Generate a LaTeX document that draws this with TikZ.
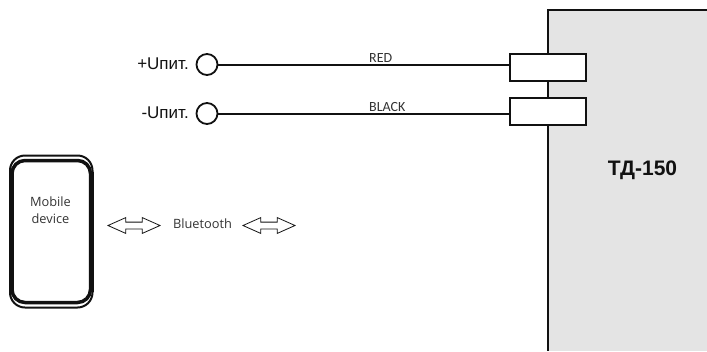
\documentclass[tikz,border=0pt]{standalone}
\usepackage{fontspec}
\setmainfont{Liberation Sans}
\newfontfamily\lblfont{Carlito}
\newfontfamily\devfont{Open Sans}
\usetikzlibrary{shapes.arrows}
\definecolor{boxgray}{HTML}{E4E4E4}
\definecolor{inkc}{HTML}{111111}
\definecolor{txtc}{HTML}{333333}
\tikzset{
  wire/.style={draw=inkc,line width=2bp},
  term/.style={circle,draw=inkc,line width=1.8bp,fill=white,minimum size=21bp,inner sep=0pt},
  conn/.style={rectangle,draw=inkc,line width=2bp,fill=white,minimum width=76bp,minimum height=27bp,inner sep=0pt},
  pwr/.style={font=\fontsize{17bp}{19bp}\selectfont,text=inkc,anchor=east,inner sep=0pt},
  wlabel/.style={font=\lblfont\fontsize{14bp}{16bp}\selectfont,text=txtc,inner sep=0pt,anchor=west},
  dev/.style={font=\devfont\fontsize{12.8bp}{17bp}\selectfont,text=txtc,inner sep=0pt,align=center},
  link/.style={double arrow,draw=inkc,line width=0.8bp,fill=white,minimum width=15bp,minimum height=52bp,double arrow head extend=4.5bp,double arrow tip angle=48,inner xsep=0pt,inner ysep=3bp}
}
\begin{document}
\begin{tikzpicture}[x=1bp,y=-1bp]
\useasboundingbox (0,0) rectangle (707,351);
% body of the device
\fill[boxgray] (547.5,10) rectangle (707,351);
\draw[inkc,line width=2bp] (707,10) -- (547.5,10) -- (547.5,351);
\node[conn] (c1) at (547.5,67) {};
\node[conn] (c2) at (547.5,111) {};
\node[term] (t1) at (207,64.5) {};
\node[term] (t2) at (207,113.5) {};
\draw[wire] (t1) -- (t1-|c1.west);
\draw[wire] (t2) -- (t2-|c2.west);
\node[pwr] (p1) at (189,64) {+Uпит.};
\node[pwr] (p2) at (189,113) {-Uпит.};
\node[wlabel] (r) at (369,58) {RED};
\node[wlabel] (b) at (369,107) {BLACK};
\node[font=\bfseries\fontsize{21bp}{24bp}\selectfont,text=inkc,inner sep=0pt] (td) at (642.5,170) {ТД-150};
% mobile device
\draw[inkc,line width=2bp,rounded corners=15bp] (10,155.5) rectangle (92.5,307.5);
\draw[inkc,line width=3.5bp,rounded corners=13bp] (12,160.5) rectangle (90.5,302.5);
\fill[inkc] (9,172) rectangle (13.5,292);
\fill[inkc] (89,172) rectangle (93.5,292);
\node[dev] (m) at (50.5,210.5) {Mobile\\device};
\node[link] (a1) at (134,225.5) {};
\node[font=\devfont\fontsize{12.8bp}{15bp}\selectfont,text=txtc,inner sep=0pt] (bt) at (202.5,224) {Bluetooth};
\node[link] (a2) at (269,225.5) {};
\end{tikzpicture}
\end{document}
